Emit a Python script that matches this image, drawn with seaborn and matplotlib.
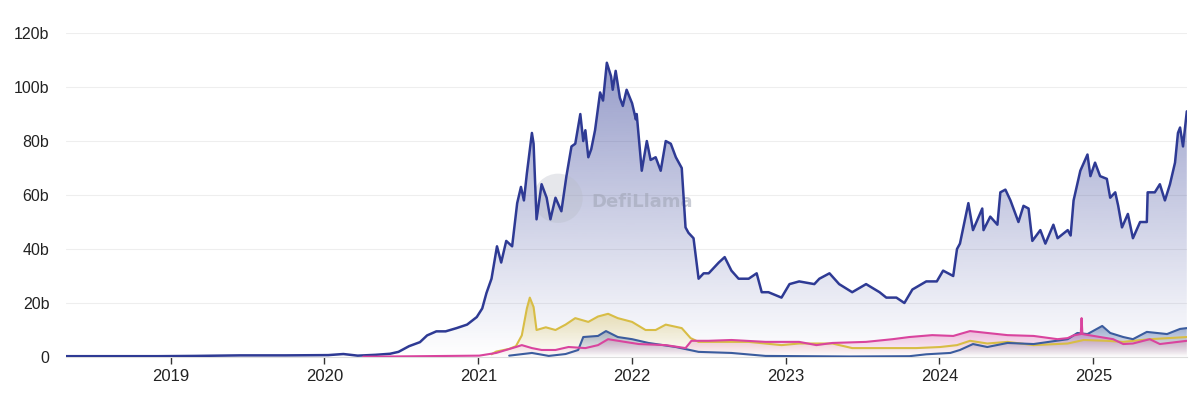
import numpy as np
import pandas as pd
import matplotlib.pyplot as plt
import matplotlib.dates as mdates
import seaborn as sns
from matplotlib.patches import Ellipse
from matplotlib.ticker import FuncFormatter

# ---- data (TVL in billions USD) ----
main_dates = [
    "2018-04-27", "2018-08-01", "2018-12-01", "2019-03-01", "2019-06-15", "2019-10-01",
    "2020-01-10", "2020-02-15", "2020-03-20", "2020-05-01", "2020-06-05", "2020-06-25",
    "2020-07-20", "2020-08-15", "2020-09-01", "2020-09-23", "2020-10-15", "2020-11-10",
    "2020-12-05", "2020-12-28", "2021-01-10", "2021-01-20", "2021-02-01", "2021-02-14",
    "2021-02-24", "2021-03-08", "2021-03-22", "2021-04-03", "2021-04-12", "2021-04-19",
    "2021-04-26", "2021-05-08", "2021-05-12", "2021-05-19", "2021-05-31", "2021-06-12",
    "2021-06-21", "2021-07-03", "2021-07-17", "2021-07-29", "2021-08-10", "2021-08-19",
    "2021-08-31", "2021-09-07", "2021-09-12", "2021-09-19", "2021-09-26", "2021-10-05",
    "2021-10-17", "2021-10-24", "2021-11-02", "2021-11-12", "2021-11-16", "2021-11-23",
    "2021-12-03", "2021-12-10", "2021-12-19", "2022-01-01", "2022-01-10", "2022-01-12",
    "2022-01-24", "2022-02-05", "2022-02-14", "2022-02-26", "2022-03-10", "2022-03-22",
    "2022-04-03", "2022-04-15", "2022-04-29", "2022-05-08", "2022-05-15", "2022-05-27",
    "2022-06-08", "2022-06-20", "2022-07-02", "2022-07-14", "2022-07-26", "2022-08-09",
    "2022-08-25", "2022-09-11", "2022-10-05", "2022-10-24", "2022-11-05", "2022-11-21",
    "2022-12-22", "2023-01-10", "2023-02-02", "2023-03-10", "2023-03-22", "2023-04-15",
    "2023-05-08", "2023-06-08", "2023-07-11", "2023-08-12", "2023-08-28", "2023-09-21",
    "2023-10-10", "2023-10-29", "2023-12-01", "2023-12-26", "2024-01-10", "2024-02-03",
    "2024-02-12", "2024-02-19", "2024-03-10", "2024-03-21", "2024-04-12", "2024-04-15",
    "2024-05-01", "2024-05-18", "2024-05-25", "2024-06-06", "2024-06-18", "2024-07-07",
    "2024-07-19", "2024-07-31", "2024-08-09", "2024-08-28", "2024-09-09", "2024-09-28",
    "2024-10-08", "2024-11-01", "2024-11-08", "2024-11-15", "2024-12-01", "2024-12-18",
    "2024-12-25", "2025-01-05", "2025-01-17", "2025-02-02", "2025-02-10", "2025-02-22",
    "2025-03-01", "2025-03-10", "2025-03-24", "2025-04-05", "2025-04-22", "2025-05-08",
    "2025-05-10", "2025-05-27", "2025-06-08", "2025-06-20", "2025-07-02", "2025-07-14",
    "2025-07-21", "2025-07-26", "2025-08-02", "2025-08-11",
]
main_tvl = [
    0.3, 0.3, 0.3, 0.4, 0.6, 0.6,
    0.7, 1.1, 0.5, 0.8, 1.2, 1.9,
    4, 5.5, 8, 9.5, 9.5, 10.7,
    12, 14.8, 18, 23.7, 29, 41,
    35, 43, 41, 57, 63, 58,
    68, 83, 79, 51, 64, 59,
    51, 59, 54, 67, 78, 79,
    90, 80, 84, 74, 77, 84,
    98, 95, 109, 104, 99, 106,
    96, 93, 99, 94, 88, 90,
    69, 80, 73, 74, 69, 80,
    79, 74, 70, 48, 46, 44,
    29, 31, 31, 33, 35, 37,
    32, 29, 29, 31, 24, 24,
    22, 27, 28, 27, 29, 31,
    27, 24, 27, 24, 22, 22,
    20, 25, 28, 28, 32, 30,
    40, 42, 57, 47, 55, 47,
    52, 49, 61, 62, 58, 50,
    56, 55, 43, 47, 42, 49,
    44, 47, 45, 58, 69, 75,
    67, 72, 67, 66, 59, 61,
    56, 48, 53, 44, 50, 50,
    61, 61, 64, 58, 64, 72,
    83, 85, 78, 91,
]

yellow_dates = [
    "2021-02-01", "2021-02-12", "2021-03-15", "2021-03-31", "2021-04-14", "2021-04-26",
    "2021-05-03", "2021-05-12", "2021-05-19", "2021-06-10", "2021-07-03", "2021-07-27",
    "2021-08-19", "2021-09-19", "2021-10-12", "2021-11-05", "2021-11-28", "2022-01-01",
    "2022-02-02", "2022-02-26", "2022-03-22", "2022-04-29", "2022-05-20", "2022-06-08",
    "2022-10-05", "2022-12-22", "2023-02-02", "2023-04-22", "2023-06-08", "2023-08-19",
    "2023-11-07", "2024-01-03", "2024-02-12", "2024-03-14", "2024-04-24", "2024-06-11",
    "2024-08-12", "2024-11-01", "2024-12-09", "2025-02-02", "2025-03-13", "2025-05-15",
    "2025-08-11",
]
yellow_tvl = [
    1, 2, 3, 4, 8, 18,
    22, 18.5, 10, 11, 10, 12,
    14.4, 13, 15, 16, 14.4, 13,
    10, 10, 12, 10.7, 7, 5.6,
    5.6, 4.4, 5, 5, 3.3, 3.3,
    3.3, 3.7, 4.4, 6, 5, 5.6,
    4.4, 5, 6.3, 6, 5.6, 6.6,
    7.4,
]

pink_dates = [
    "2020-04-02", "2020-08-15", "2021-01-03", "2021-02-12", "2021-03-31", "2021-04-14",
    "2021-05-08", "2021-05-31", "2021-07-03", "2021-08-03", "2021-09-12", "2021-10-12",
    "2021-11-05", "2021-12-15", "2022-01-17", "2022-03-22", "2022-05-08", "2022-05-22",
    "2022-07-02", "2022-08-25", "2022-11-14", "2023-02-02", "2023-03-15", "2023-04-22",
    "2023-07-11", "2023-09-12", "2023-10-22", "2023-12-15", "2024-02-03", "2024-03-14",
    "2024-04-24", "2024-06-11", "2024-08-12", "2024-10-08", "2024-11-01", "2024-11-15",
    "2024-12-02", "2024-12-04", "2024-12-06", "2025-01-17", "2025-02-17", "2025-03-13",
    "2025-04-05", "2025-05-15", "2025-06-08", "2025-08-11",
]
pink_tvl = [
    0.1, 0.3, 0.5, 1.5, 3.7, 4.4,
    3.3, 2.6, 2.6, 3.7, 3.3, 4.4,
    6.6, 5.6, 4.8, 4.4, 3.3, 6,
    6, 6.3, 5.6, 5.6, 4.4, 5.2,
    5.6, 6.6, 7.4, 8.1, 7.8, 9.6,
    8.9, 8.1, 7.8, 6.6, 7, 8,
    8.5, 14.4, 8.5, 7.4, 6.6, 4.8,
    5, 6.6, 4.8, 6,
]

steel_dates = [
    "2021-03-15", "2021-05-08", "2021-06-17", "2021-07-27", "2021-08-26", "2021-09-07",
    "2021-10-12", "2021-10-31", "2021-11-28", "2022-01-01", "2022-02-09", "2022-04-15",
    "2022-06-08", "2022-08-25", "2022-11-14", "2023-06-01", "2023-10-22", "2023-12-01",
    "2024-01-27", "2024-02-19", "2024-03-21", "2024-04-24", "2024-06-11", "2024-08-12",
    "2024-11-01", "2024-11-24", "2024-12-18", "2025-01-22", "2025-02-10", "2025-03-13",
    "2025-04-05", "2025-05-08", "2025-06-25", "2025-07-26", "2025-08-11",
]
steel_tvl = [
    0.5, 1.5, 0.4, 1.1, 2.6, 7.4,
    7.8, 9.6, 7.4, 6.6, 5.2, 3.7,
    1.9, 1.5, 0.4, 0.2, 0.3, 1,
    1.5, 2.6, 4.8, 3.7, 5.2, 4.8,
    6.6, 8.9, 8.5, 11.5, 8.9, 7.4,
    6.6, 9.3, 8.5, 10.4, 10.7,
]

year_ticks = ["2019", "2020", "2021", "2022", "2023", "2024", "2025"]

series = [
    ("main", main_dates, main_tvl, "#2e3a94", 1.8),
    ("yellow", yellow_dates, yellow_tvl, "#d8bd45", 1.5),
    ("steel", steel_dates, steel_tvl, "#3b5c9e", 1.5),
    ("pink", pink_dates, pink_tvl, "#d9449e", 1.5),
]

sns.set_theme(style="white")
plt.rcParams["font.family"] = ["Liberation Sans", "DejaVu Sans"]

fig = plt.figure(figsize=(12, 3.96), dpi=100)
ax = fig.add_axes([0.055, 0.0985, 0.934, 0.818])

x_min = mdates.date2num(pd.Timestamp("2018-04-27"))
x_max = mdates.date2num(pd.Timestamp("2025-08-11"))

for name, dates, vals, color, lw in series:
    d = pd.to_datetime(dates)
    xn = mdates.date2num(d)
    # gradient fill under each line, fading to white at zero
    poly = ax.fill_between(xn, vals, 0, color="none", lw=0)
    top = max(vals)
    rgb = np.array(plt.matplotlib.colors.to_rgb(color))
    grad = np.zeros((256, 1, 4))
    grad[:, 0, :3] = rgb
    grad[:, 0, 3] = np.linspace(0.5, 0.0, 256)
    im = ax.imshow(grad, aspect="auto", extent=[xn[0], xn[-1], 0, top],
                   origin="upper", zorder=1)
    im.set_clip_path(poly.get_paths()[0], transform=ax.transData)
    df = pd.DataFrame({"date": d, "tvl": vals})
    sns.lineplot(data=df, x="date", y="tvl", ax=ax, color=color, lw=lw, zorder=3)

ax.set_xlim(x_min, x_max)
ax.set_ylim(0, 120)
ax.set_yticks([0, 20, 40, 60, 80, 100, 120])
ax.yaxis.set_major_formatter(FuncFormatter(lambda v, p: "0" if v == 0 else f"{int(v)}b"))
ax.set_xticks(mdates.date2num(pd.to_datetime([y + "-01-01" for y in year_ticks])))
ax.set_xticklabels(year_ticks)
ax.set_xlabel("")
ax.set_ylabel("")

ax.grid(axis="y", color="#eeeeee", lw=0.8)
ax.grid(axis="x", visible=False)
for s in ["top", "right", "left"]:
    ax.spines[s].set_visible(False)
ax.spines["bottom"].set_color("#dddddd")
ax.spines["bottom"].set_linewidth(0.8)
ax.tick_params(axis="x", bottom=True, length=5, width=1, color="#333333",
               labelsize=12, pad=4, labelcolor="#222222")
ax.tick_params(axis="y", left=False, length=0, labelsize=11.5, pad=12,
               labelcolor="#222222")

# watermark
ax.add_patch(Ellipse((0.439, 0.49), 0.044, 0.152, transform=ax.transAxes,
                     facecolor="#b8bcc8", alpha=0.35, zorder=2, ec="none"))
ax.text(0.469, 0.48, "DefiLlama", transform=ax.transAxes, fontsize=13,
        fontweight="bold", color="#9ea3b3", alpha=0.55, va="center", ha="left",
        zorder=2, family=["DejaVu Sans"])

fig.savefig("out.png", dpi=100)
